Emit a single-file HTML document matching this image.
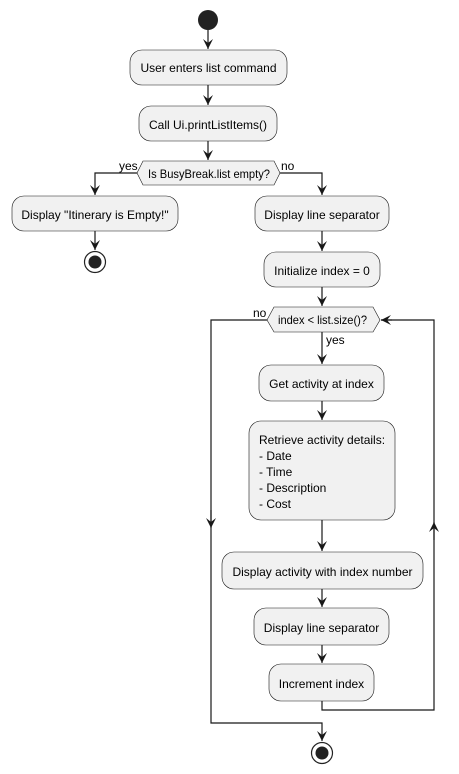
<!DOCTYPE html>
<html><head><meta charset="utf-8"><style>
html,body{margin:0;padding:0;background:#fff;}
svg{display:block;}
text{font-family:"Liberation Sans",sans-serif;font-size:12px;fill:#000;}
.b{fill:#f1f1f1;stroke:#181818;stroke-width:0.6;}
.l{fill:none;stroke:#181818;stroke-width:1.2;}
.a{fill:#181818;}
</style></head><body>
<svg width="459" height="774" viewBox="0 0 459 774">
<defs>
<marker id="m" markerWidth="12" markerHeight="12" refX="10" refY="5" orient="auto" markerUnits="userSpaceOnUse">
<path d="M0,0 L10,5 L0,10 L4,5 Z" class="a"/>
</marker>
</defs>
<circle cx="208" cy="20" r="10" fill="#222"/>
<path class="l" d="M208,30 V49" marker-end="url(#m)"/>
<rect class="b" x="130" y="50" width="157" height="35" rx="12"/>
<text x="208.5" y="72" text-anchor="middle">User enters list command</text>
<path class="l" d="M208,85 V105" marker-end="url(#m)"/>
<rect class="b" x="139" y="106" width="138" height="35" rx="12"/>
<text x="208" y="129" text-anchor="middle">Call Ui.printListItems()</text>
<path class="l" d="M208,141 V160" marker-end="url(#m)"/>
<polygon class="b" points="137,173 143,161 274,161 280,173 274,185 143,185"/>
<text x="148" y="178" font-size="11" textLength="122" lengthAdjust="spacingAndGlyphs">Is BusyBreak.list empty?</text>
<text x="119" y="170" font-size="11">yes</text>
<text x="281" y="170" font-size="11">no</text>
<path class="l" d="M137,173 H95 V195" marker-end="url(#m)"/>
<path class="l" d="M280,173 H322 V195" marker-end="url(#m)"/>
<rect class="b" x="12" y="196" width="166" height="35" rx="12"/>
<text x="95" y="219" text-anchor="middle">Display "Itinerary is Empty!"</text>
<path class="l" d="M95,231 V250" marker-end="url(#m)"/>
<circle cx="95" cy="262" r="10.5" fill="#fff" stroke="#222" stroke-width="1.2"/>
<circle cx="95" cy="262" r="6.5" fill="#222"/>
<rect class="b" x="255" y="196" width="134" height="35" rx="12"/>
<text x="322" y="219" text-anchor="middle">Display line separator</text>
<path class="l" d="M322,231 V251" marker-end="url(#m)"/>
<rect class="b" x="264" y="252" width="116" height="35" rx="12"/>
<text x="322" y="275" text-anchor="middle">Initialize index = 0</text>
<path class="l" d="M322,287 V306" marker-end="url(#m)"/>
<polygon class="b" points="267,320 274,307 373,307 380,320 373,332 274,332"/>
<text x="278" y="324" font-size="11" textLength="89" lengthAdjust="spacingAndGlyphs">index &lt; list.size()?</text>
<text x="253" y="317" font-size="11">no</text>
<text x="326" y="344" font-size="11">yes</text>
<path class="l" d="M322,332 V364" marker-end="url(#m)"/>
<rect class="b" x="259" y="365" width="125" height="36" rx="12"/>
<text x="321.5" y="388" text-anchor="middle">Get activity at index</text>
<path class="l" d="M322,401 V420" marker-end="url(#m)"/>
<rect class="b" x="249" y="421" width="146" height="99" rx="12"/>
<text x="259" y="444">Retrieve activity details:</text>
<text x="259" y="460">- Date</text>
<text x="259" y="476">- Time</text>
<text x="259" y="492">- Description</text>
<text x="259" y="508">- Cost</text>
<path class="l" d="M322,520 V551" marker-end="url(#m)"/>
<rect class="b" x="222" y="552" width="201" height="37" rx="12"/>
<text x="322.5" y="576" text-anchor="middle">Display activity with index number</text>
<path class="l" d="M322,589 V607" marker-end="url(#m)"/>
<rect class="b" x="254" y="608" width="135" height="37" rx="12"/>
<text x="321.5" y="632" text-anchor="middle">Display line separator</text>
<path class="l" d="M322,645 V663" marker-end="url(#m)"/>
<rect class="b" x="269" y="664" width="105" height="37" rx="12"/>
<text x="321.5" y="688" text-anchor="middle">Increment index</text>
<path class="l" d="M322,701 V710 H434 V320 H381"/>
<path class="l" d="M434,540 V522" marker-end="url(#m)"/>
<path class="l" d="M392,320 H381" marker-end="url(#m)"/>
<path class="l" d="M267,320 H211 V723 H322 V741" marker-end="url(#m)"/>
<path class="l" d="M211,510 V528" marker-end="url(#m)"/>
<circle cx="322" cy="753" r="10.5" fill="#fff" stroke="#222" stroke-width="1.2"/>
<circle cx="322" cy="753" r="6.5" fill="#222"/>
</svg>
</body></html>
